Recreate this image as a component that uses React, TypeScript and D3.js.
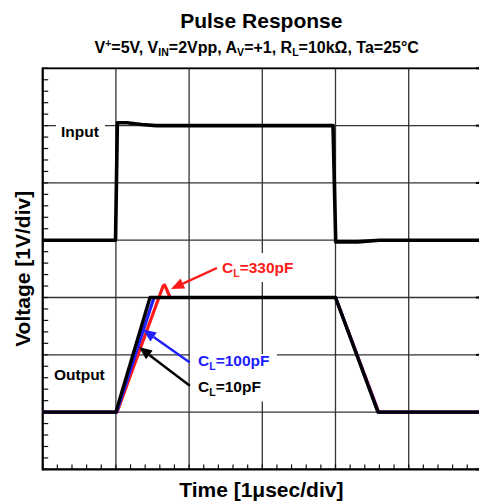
import React from "react";
import * as d3 from "d3";

// ---- data (time in div of 1 µs, voltage in div of 1 V) ----
const T_INPUT = [0, 0.995, 1.02, 1.15, 1.35, 1.55, 3.966, 4.003, 4.3, 4.6, 6];
const V_INPUT = [4, 4, 6.05, 6.05, 6.02, 6.0, 6.0, 3.97, 3.97, 4.0, 4.0];

const T_CL10 = [0, 1.0, 1.466, 4.0, 4.58, 6];
const V_CL10 = [1, 1, 3, 3, 1, 1];

const T_CL100 = [0, 1.01, 1.52, 4.0, 4.585, 6];
const V_CL100 = [1, 1, 3, 3, 1, 1];

const T_CL330 = [0, 1.015, 1.645, 1.665, 1.69, 1.74, 4.0, 4.59, 6];
const V_CL330 = [1, 1, 3.2, 3.22, 3.15, 3.0, 3.0, 1, 1];

const X_DIVS = [0, 1, 2, 3, 4, 5, 6];
const Y_DIVS = [0, 1, 2, 3, 4, 5, 6, 7];

const TITLE = "Pulse Response";
const X_LABEL = "Time [1μsec/div]";
const Y_LABEL = "Voltage [1V/div]";

const FONT = "'Liberation Sans', Arial, Helvetica, sans-serif";

export default function App() {
  const W = 479;
  const H = 502;
  const x = d3.scaleLinear().domain([0, 6]).range([42.7, 481.9]);
  const y = d3.scaleLinear().domain([0, 7]).range([469.4, 68.3]);

  const line = (ts: number[], vs: number[]) =>
    d3.line<number>()
      .x((_, i) => x(ts[i]))
      .y((_, i) => y(vs[i]))(ts) as string;

  const minorX: number[] = d3.range(0, 6.0001, 0.2);
  const minorY: number[] = d3.range(0, 7.0001, 0.2);

  const arrow = (
    t0: number, v0: number, t1: number, v1: number, color: string
  ) => {
    const x0 = x(t0), y0 = y(v0), x1 = x(t1), y1 = y(v1);
    const ang = Math.atan2(y1 - y0, x1 - x0);
    const L = 13, Wd = 5.5;
    const bx = x1 - L * Math.cos(ang), by = y1 - L * Math.sin(ang);
    const px = -Math.sin(ang) * Wd, py = Math.cos(ang) * Wd;
    return (
      <g>
        <line x1={x0} y1={y0} x2={bx} y2={by} stroke={color} strokeWidth={2.4} />
        <polygon
          points={`${x1},${y1} ${bx + px},${by + py} ${bx - px},${by - py}`}
          fill={color}
        />
      </g>
    );
  };

  const clLabel = (px: number, py: number, rest: string, color: string) => (
    <text x={px} y={py} fill={color} fontFamily={FONT} fontWeight="bold" fontSize={15.5}>
      C<tspan fontSize={10.5} dy={4}>L</tspan>
      <tspan dy={-4}>{rest}</tspan>
    </text>
  );

  return (
    <svg
      width={W}
      height={H}
      style={{ position: "absolute", left: 0, top: 0, background: "#fff" }}
    >
      <rect x={0} y={0} width={W} height={H} fill="#fff" />
      {/* grid */}
      {X_DIVS.map((d) => (
        <line key={"gx" + d} x1={x(d)} x2={x(d)} y1={y(0)} y2={y(7)} stroke="#333" strokeWidth={1.3} />
      ))}
      {Y_DIVS.map((d) => (
        <line key={"gy" + d} x1={x(0)} x2={x(6)} y1={y(d)} y2={y(d)} stroke="#333" strokeWidth={1.3} />
      ))}
      {/* minor ticks */}
      {minorY.map((d, i) => (
        <line key={"ty" + i} x1={x(0)} x2={x(0) + 5.5} y1={y(d)} y2={y(d)} stroke="#111" strokeWidth={1.2} />
      ))}
      {minorX.map((d, i) => (
        <line key={"tx" + i} x1={x(d)} x2={x(d)} y1={y(0)} y2={y(0) - 5} stroke="#111" strokeWidth={1.2} />
      ))}
      {Y_DIVS.map((d) => (
        <line key={"ry" + d} x1={x(6) - 6} x2={x(6)} y1={y(d)} y2={y(d)} stroke="#000" strokeWidth={2} />
      ))}
      {/* border */}
      <line x1={x(0)} x2={x(6)} y1={y(7)} y2={y(7)} stroke="#000" strokeWidth={1.8} />
      <line x1={x(0)} x2={x(6)} y1={y(0)} y2={y(0)} stroke="#000" strokeWidth={2.4} />
      <line x1={x(0)} x2={x(0)} y1={y(0) + 1.2} y2={y(7) - 0.9} stroke="#000" strokeWidth={2.2} />

      {/* label backgrounds */}
      <rect x={56} y={117} width={49} height={24} fill="#fff" />
      <rect x={218} y={253} width={86} height={29} fill="#fff" />
      <rect x={190} y={354} width={87} height={47.5} fill="#fff" />

      {/* traces */}
      <path d={line(T_INPUT, V_INPUT)} fill="none" stroke="#000" strokeWidth={3.6} strokeLinejoin="round" />
      <path d={line(T_CL330, V_CL330)} fill="none" stroke="#ff1a1a" strokeWidth={3.2} strokeLinejoin="round" />
      <path d={line(T_CL100, V_CL100)} fill="none" stroke="#2020ff" strokeWidth={3.2} strokeLinejoin="round" />
      <path d={line(T_CL10, V_CL10)} fill="none" stroke="#000" strokeWidth={3.4} strokeLinejoin="round" />

      {/* annotations */}
      <text x={61} y={137} fontFamily={FONT} fontWeight="bold" fontSize={15.5} fill="#000">Input</text>
      <text x={54} y={380} fontFamily={FONT} fontWeight="bold" fontSize={15.5} fill="#000">Output</text>

      {arrow(2.38, 3.515, 1.753, 3.148, "#ff1a1a")}
      {arrow(2.01, 1.865, 1.37, 2.44, "#2020ff")}
      {arrow(2.01, 1.46, 1.315, 2.135, "#000")}

      {clLabel(222, 273, "=330pF", "#ff1a1a")}
      {clLabel(198, 366, "=100pF", "#2020ff")}
      {clLabel(198, 392, "=10pF", "#000")}

      {/* titles */}
      <text x={261.3} y={28} textAnchor="middle" fontFamily={FONT} fontWeight="bold" fontSize={21} fill="#000">{TITLE}</text>
      <text x={256.7} y={53} textAnchor="middle" fontFamily={FONT} fontWeight="bold" fontSize={16} fill="#000">
        V<tspan fontSize={10.5} dy={-6}>+</tspan>
        <tspan dy={6}>=5V, V</tspan>
        <tspan fontSize={10.5} dy={3}>IN</tspan>
        <tspan dy={-3}>=2Vpp, A</tspan>
        <tspan fontSize={10.5} dy={3}>V</tspan>
        <tspan dy={-3}>=+1, R</tspan>
        <tspan fontSize={10.5} dy={3}>L</tspan>
        <tspan dy={-3}>=10kΩ, Ta=25°C</tspan>
      </text>
      <text x={261.3} y={497} textAnchor="middle" fontFamily={FONT} fontWeight="bold" fontSize={21} fill="#000">{X_LABEL}</text>
      <text
        transform={`translate(30,${(y(0) + y(7)) / 2}) rotate(-90)`}
        textAnchor="middle"
        fontFamily={FONT}
        fontWeight="bold"
        fontSize={21}
        fill="#000"
      >
        {Y_LABEL}
      </text>
    </svg>
  );
}
